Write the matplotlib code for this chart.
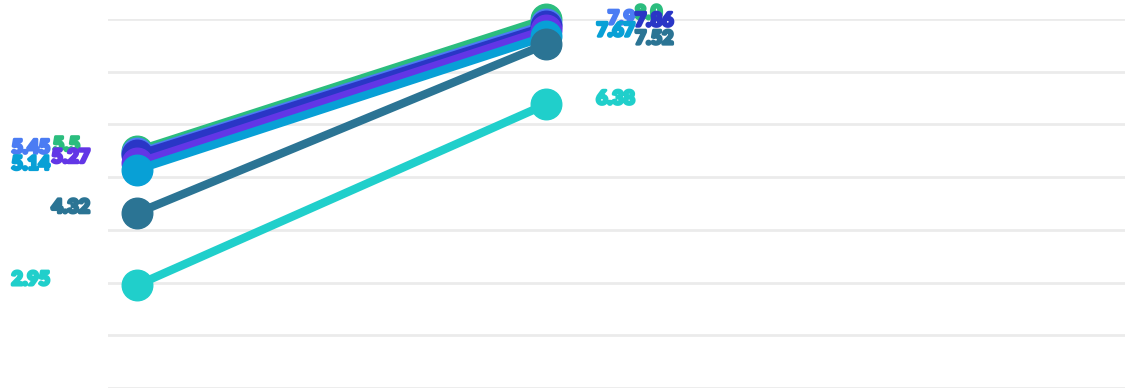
import matplotlib.pyplot as plt
import matplotlib.patheffects as pe

# two time points, seven series
x_pos = [0, 1]
green = [5.5, 8.0]
blue = [5.45, 7.9]
navy = [5.42, 7.86]
purple = [5.27, 7.8]
light_blue = [5.14, 7.67]
dark_teal = [4.32, 7.52]
turquoise = [2.95, 6.38]

series = [green, blue, navy, purple, light_blue, dark_teal, turquoise]
colors = ['#2bbd7e', '#4b7cf3', '#2a36c6', '#6236e6', '#08a0d6', '#2b7494', '#20cfcb']

# label placement (pixel offsets from the point, alignment); None = label hidden
left_lab = [(-57, 'right'), (-87, 'right'), None, (-47, 'right'),
            (-87, 'right'), (-47, 'right'), (-87, 'right')]
right_lab = [(89, 'left'), (89, 'right'), (89, 'left'), None,
              (89, 'right'), (89, 'left'), (89, 'right')]

fig = plt.figure(figsize=(11.25, 3.89), dpi=100)
ax = fig.add_axes([108 / 1125, 1 / 389, 1 - 108 / 1125, 369 / 389])
ax.set_xlim(-0.0709, 2.416)
ax.set_ylim(1, 8)

for yv in range(1, 9):
    ax.axhline(yv, color='#ebebeb', lw=2, zorder=0)

for vals, c in zip(series, colors):
    ax.plot(x_pos, vals, color=c, lw=6, marker='o', ms=22,
            solid_capstyle='round', clip_on=False, zorder=2)

fx = dict(fontsize=14, fontweight='heavy', family=['Lato', 'DejaVu Sans'])
for vals, c, ll, rl in zip(series, colors, left_lab, right_lab):
    for xi, v, lab in ((0, vals[0], ll), (1, vals[1], rl)):
        if lab is None:
            continue
        dx, ha = lab
        t = ax.annotate(f'{v:g}' if v != 8.0 else '8.0', (x_pos[xi], v),
                        xytext=(dx * 0.72, 4), textcoords='offset points',
                        ha=ha, va='center', color=c, annotation_clip=False,
                        zorder=3, **fx)
        t.set_path_effects([pe.withStroke(linewidth=2, foreground=c)])

ax.axis('off')
fig.savefig('out.png', dpi=100)
